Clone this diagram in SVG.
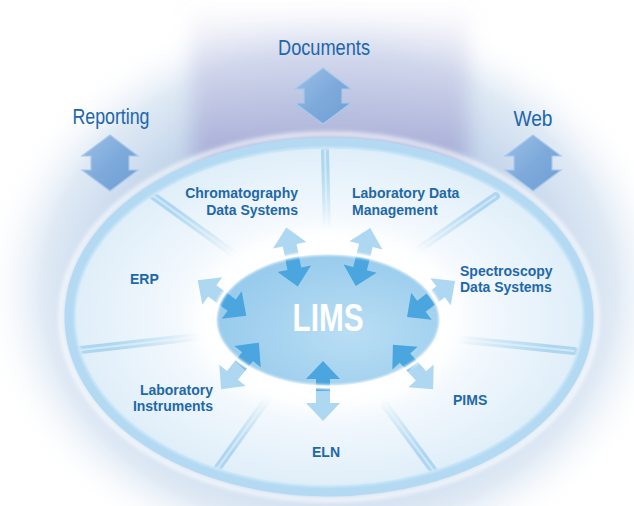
<svg xmlns="http://www.w3.org/2000/svg" width="634" height="506" viewBox="0 0 634 506">
<defs>
  <radialGradient id="glow" cx="0.5" cy="0.5" r="0.5">
    <stop offset="0" stop-color="#b2c7e4"/>
    <stop offset="0.6" stop-color="#c0d3ea"/>
    <stop offset="0.82" stop-color="#e0eaf5"/>
    <stop offset="1" stop-color="#ffffff" stop-opacity="0"/>
  </radialGradient>
  <linearGradient id="purp" x1="0" y1="0" x2="0" y2="1">
    <stop offset="0" stop-color="#c8c9e6" stop-opacity="0"/>
    <stop offset="0.4" stop-color="#c2c4e3" stop-opacity="0.55"/>
    <stop offset="1" stop-color="#a6abd5"/>
  </linearGradient>
  <radialGradient id="seg" cx="0.5" cy="0.5" r="0.5">
    <stop offset="0.42" stop-color="#ffffff"/>
    <stop offset="0.62" stop-color="#f2f8fd"/>
    <stop offset="1" stop-color="#dfeef9"/>
  </radialGradient>
  <radialGradient id="spkMask" cx="0.5" cy="0.5" r="0.5">
    <stop offset="0.5" stop-color="#000000"/>
    <stop offset="0.85" stop-color="#ffffff"/>
  </radialGradient>
  <mask id="spokeFade" maskUnits="userSpaceOnUse" x="0" y="0" width="634" height="506">
    <ellipse cx="329" cy="317" rx="262" ry="177" fill="url(#spkMask)"/>
  </mask>
  <radialGradient id="lims" cx="0.6" cy="0.6" r="0.6">
    <stop offset="0" stop-color="#b9def4"/>
    <stop offset="1" stop-color="#98cbec"/>
  </radialGradient>
  <linearGradient id="bigArrow" x1="0" y1="0" x2="1" y2="1">
    <stop offset="0" stop-color="#9cc0e7"/>
    <stop offset="0.5" stop-color="#7eaadb"/>
    <stop offset="1" stop-color="#6f9fd3"/>
  </linearGradient>
  <filter id="blur10" x="-30%" y="-30%" width="160%" height="160%"><feGaussianBlur stdDeviation="10"/></filter>
  <filter id="blur2" x="-10%" y="-10%" width="120%" height="120%"><feGaussianBlur stdDeviation="2"/></filter>
  <filter id="blur1" x="-10%" y="-10%" width="120%" height="120%"><feGaussianBlur stdDeviation="1.2"/></filter>
  <path id="vArrow" d="M0,-28 L28,-7 L19,-7 L19,7 L28,7 L0,28 L-28,7 L-19,7 L-19,-7 L-28,-7 Z"/>
  <g id="dbl">
    <polygon class="lt" points="-30,0 -12,-17 -12,-7 0,-7 0,7 -12,7 -12,17"/>
    <polygon class="dk" points="30,0 12,-17 12,-7 0,-7 0,7 12,7 12,17"/>
  </g>
</defs>
<style>
  .top { font-family: "Liberation Sans", Arial, sans-serif; font-size: 22px; fill: #2166ab; }
  .lbl { font-family: "Liberation Sans", Arial, sans-serif; font-weight: bold; font-size: 14px; fill: #1f68a8; }
  .big { fill: url(#bigArrow); stroke: #a9c8ea; stroke-width: 1.2; }
  .lt { fill: #aed7f1; }
  .dk { fill: #4ba5df; }
  .spoke { stroke: #aed6f0; stroke-width: 8; stroke-linecap: round; }
  .spokeHi { stroke: #cfe9f8; stroke-width: 2; }
</style>

<!-- background -->
<rect width="634" height="506" fill="#ffffff"/>
<ellipse cx="329" cy="290" rx="350" ry="290" fill="url(#glow)"/>
<rect x="192" y="5" width="276" height="160" fill="url(#purp)" filter="url(#blur10)"/>

<!-- outer nodes -->
<g id="node-reporting">
  <text class="top" x="111" y="124" text-anchor="middle" textLength="77" lengthAdjust="spacingAndGlyphs">Reporting</text>
  <use href="#vArrow" class="big" transform="translate(110,163)"/>
</g>
<g id="node-documents">
  <text class="top" x="324" y="55" text-anchor="middle" textLength="92" lengthAdjust="spacingAndGlyphs">Documents</text>
  <use href="#vArrow" class="big" transform="translate(323,96)"/>
</g>
<g id="node-web">
  <text class="top" x="533" y="126" text-anchor="middle" textLength="39" lengthAdjust="spacingAndGlyphs">Web</text>
  <use href="#vArrow" class="big" transform="translate(533,163)"/>
</g>

<!-- ring -->
<g id="ring">
  <ellipse cx="329" cy="317" rx="268" ry="183" fill="none" stroke="#ffffff" stroke-opacity="0.7" stroke-width="5" filter="url(#blur2)"/>
  <ellipse cx="329" cy="317" rx="256" ry="171" fill="url(#seg)"/>
  <g id="spokes" mask="url(#spokeFade)">
    <line class="spoke" x1="325" y1="150" x2="327" y2="235"/>
    <line class="spoke" x1="152" y1="195" x2="245" y2="262"/>
    <line class="spoke" x1="496" y1="196" x2="418" y2="250"/>
    <line class="spoke" x1="72" y1="351" x2="205" y2="336"/>
    <line class="spoke" x1="574" y1="351" x2="445" y2="338"/>
    <line class="spoke" x1="212" y1="476" x2="268" y2="398"/>
    <line class="spoke" x1="439" y1="478" x2="385" y2="405"/>
    <line class="spokeHi" x1="325" y1="150" x2="327" y2="235"/>
    <line class="spokeHi" x1="152" y1="195" x2="245" y2="262"/>
    <line class="spokeHi" x1="496" y1="196" x2="418" y2="250"/>
    <line class="spokeHi" x1="72" y1="351" x2="205" y2="336"/>
    <line class="spokeHi" x1="574" y1="351" x2="445" y2="338"/>
    <line class="spokeHi" x1="212" y1="476" x2="268" y2="398"/>
    <line class="spokeHi" x1="439" y1="478" x2="385" y2="405"/>
  </g>
  <ellipse cx="329" cy="317" rx="259" ry="174" fill="none" stroke="#b3daf2" stroke-width="11"/>
  <ellipse cx="329" cy="317" rx="254" ry="169" fill="none" stroke="#d8edf9" stroke-width="2" filter="url(#blur1)"/>
  <ellipse cx="328" cy="320" rx="132" ry="86" fill="#ffffff" opacity="0.95" filter="url(#blur10)"/>
  <ellipse cx="328" cy="320" rx="113" ry="67" fill="url(#lims)"/>
</g>

<!-- connectors: double arrows across the LIMS border -->
<g id="connectors">
  <use href="#dbl" transform="translate(292,257) rotate(79)"/>
  <use href="#dbl" transform="translate(363,257) rotate(104)"/>
  <use href="#dbl" transform="translate(431,299) rotate(143)"/>
  <use href="#dbl" transform="translate(413,367) rotate(228)"/>
  <use href="#dbl" transform="translate(323,391) rotate(270)"/>
  <use href="#dbl" transform="translate(240,366) rotate(309)"/>
  <use href="#dbl" transform="translate(222,298) rotate(36)"/>
</g>

<g id="node-lims">
  <ellipse cx="328" cy="320" rx="113" ry="67" fill="none" stroke="#ffffff" stroke-width="5" opacity="0.8" filter="url(#blur1)"/>
  <ellipse cx="328" cy="320" rx="113" ry="67" fill="none" stroke="#ffffff" stroke-width="2.5"/>
  <text x="328" y="331" text-anchor="middle" textLength="71" lengthAdjust="spacingAndGlyphs" style="font-family:'Liberation Sans',Arial,sans-serif;font-weight:bold;font-size:39px;fill:#ffffff">LIMS</text>
</g>

<g id="node-chromatography">
  <text class="lbl" text-anchor="end"><tspan x="298" y="198">Chromatography</tspan><tspan x="298" y="215">Data Systems</tspan></text>
</g>
<g id="node-ldm">
  <text class="lbl"><tspan x="352" y="198">Laboratory Data</tspan><tspan x="352" y="215">Management</tspan></text>
</g>
<g id="node-spectroscopy">
  <text class="lbl"><tspan x="460" y="276">Spectroscopy</tspan><tspan x="460" y="292">Data Systems</tspan></text>
</g>
<g id="node-erp">
  <text class="lbl" x="130" y="284">ERP</text>
</g>
<g id="node-instruments">
  <text class="lbl" text-anchor="end"><tspan x="213" y="395">Laboratory</tspan><tspan x="213" y="411">Instruments</tspan></text>
</g>
<g id="node-eln">
  <text class="lbl" x="312" y="457">ELN</text>
</g>
<g id="node-pims">
  <text class="lbl" x="453" y="405">PIMS</text>
</g>
</svg>
